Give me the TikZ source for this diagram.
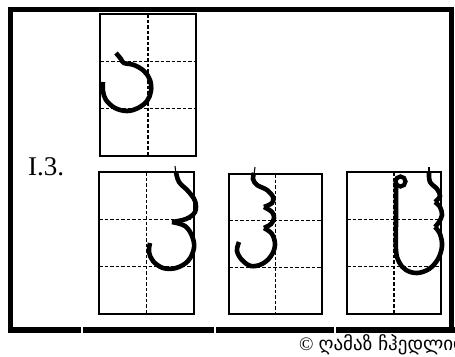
\documentclass[tikz,border=0pt]{standalone}
\usepackage{fontspec}
\setmainfont{Liberation Serif}
\newfontfamily\geofont{DejaVu Sans}
\usepackage{tikz}

\begin{document}
\begin{tikzpicture}[
  x=1pt, y=-1pt,
  frame/.style={line width=5.5pt},
  cell/.style={line width=1.8pt},
  guide/.style={line width=1.4pt, dash pattern=on 3.5pt off 2pt},
  pen/.style={line width=4.6pt, smooth, tension=0.6},
  tail/.style={line width=1.1pt},
  label/.style={inner sep=0pt, anchor=base west}
]
\useasboundingbox (0,0) rectangle (455,356);

% Outer frame
\draw[frame] (451.5,330) -- (451.5,9.5) -- (10.5,9.5) -- (10.5,330);
\draw[frame] (8,330) -- (81,330);
\draw[frame] (83,330) -- (214,330);
\draw[frame] (216,330) -- (334,330);
\draw[frame] (336,330) -- (455,330);

% Ruled cells: left, top, right, bottom
\foreach \xa/\ya/\xb/\yb in {100/14/196/156, 99/172/194/314,
                             229/174/322/314, 347/172/441/314} {
  \draw[guide] ({(\xa+\xb)/2},\ya) -- ({(\xa+\xb)/2},\yb);
  \draw[guide] (\xa,{\ya+(\yb-\ya)/3}) -- (\xb,{\ya+(\yb-\ya)/3});
  \draw[guide] (\xa,{\ya+2*(\yb-\ya)/3}) -- (\xb,{\ya+2*(\yb-\ya)/3});
  \draw[cell] (\xa,\ya) rectangle (\xb,\yb);
}

% Letter in the top cell
\draw[pen] plot coordinates {(116,53) (121,59) (124,63) (134,65) (144,71)
  (150,80) (151,91) (147,101) (138,108) (127,111) (115,108) (106,100)
  (103,91) (103,82)};

% Letter, cell 1
\draw[tail] (175,166) -- (176,174);
\draw[pen] plot coordinates {(176,172) (179,182) (188,191) (195,201)
  (195,212) (186,219) (172,222)};
\draw[pen] plot coordinates {(172,222) (185,226) (192,236) (194,248)
  (188,261) (176,268) (163,268) (153,261) (149,252) (150,243)};

% Letter, cell 2
\draw[tail] (255,167) -- (254,175);
\draw[pen] plot coordinates {(254,173) (253,179) (257,185) (267,190)
  (273,197) (272,203) (264,207)};
\draw[pen] plot coordinates {(264,207) (272,212) (274,218) (271,224)
  (264,228)};
\draw[pen] plot coordinates {(264,228) (272,234) (275,245) (271,256)
  (262,264) (251,266) (242,260) (237,251) (239,242)};

% Letter, cell 3
\draw[line width=4.2pt] (400.5,181.5) circle (5pt);
\draw[tail] (429,167) -- (429,175);
\draw[pen] plot coordinates {(429,173) (430,182) (437,189) (440,196)
  (435,202)};
\draw[pen] plot coordinates {(435,202) (440,207) (442,215) (439,222)
  (435,227)};
\draw[pen] plot coordinates {(435,227) (440,234) (442,246) (438,259)
  (429,269) (417,273) (406,270) (399,262) (396,250) (396,220) (396,186)};

% Labels
\node[label, font=\fontsize{27}{30}\selectfont] (num) at (28,175) {I.3.};
\node[label, font=\fontsize{19}{21}\selectfont] (copy) at (299,350)
  {©\hspace{5pt}{\geofont ღამაზ ჩჰედლიდზე}};
\end{tikzpicture}
\end{document}
